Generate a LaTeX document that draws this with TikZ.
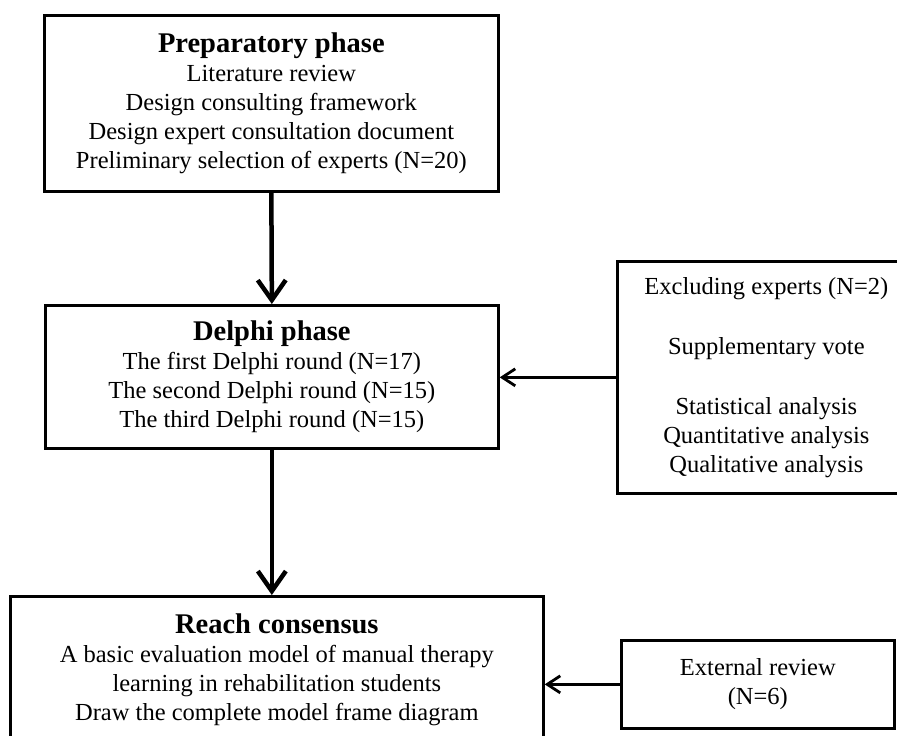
\documentclass[tikz,border=0pt]{standalone}
\usepackage{fontspec}
\setmainfont{Liberation Serif}
\usetikzlibrary{arrows.meta}
\begin{document}
\begin{tikzpicture}[x=1pt,y=-1pt,
  box/.style={draw, line width=2.7pt, anchor=north west, align=center, inner sep=2pt,
    font=\fontsize{24.5}{29}\selectfont},
  mainarr/.style={line width=4.5pt, -{Straight Barb[length=20pt,width=28pt]}},
  sidearr/.style={line width=2.8pt, -{Straight Barb[length=13pt,width=17pt]}}]
\useasboundingbox (0,0) rectangle (897,736);
\clip (0,0) rectangle (897,736);
\newcommand{\ttltext}[1]{{\fontsize{28.5}{29}\selectfont\bfseries #1}}
\node[box, minimum width=454pt, minimum height=176pt] (prep) at (43,14)
  {\ttltext{Preparatory phase}\\ Literature review\\ Design consulting framework\\
   Design expert consultation document\\ Preliminary selection of experts (N=20)};
\node[box, minimum width=453pt, minimum height=143pt] (delphi) at (44,304)
  {\ttltext{Delphi phase}\\ The first Delphi round (N=17)\\ The second Delphi round (N=15)\\
   The third Delphi round (N=15)};
\node[box, minimum width=533pt, minimum height=146pt] (cons) at (9,595)
  {\ttltext{Reach consensus}\\ A basic evaluation model of manual therapy\\
   learning in rehabilitation students\\ Draw the complete model frame diagram};
\node[box, minimum width=298pt, minimum height=232pt] (anal) at (616,260)
  {Excluding experts (N=2)\\[31pt] Supplementary vote\\[31pt] Statistical analysis\\
   Quantitative analysis\\ Qualitative analysis};
\node[box, minimum width=273pt, minimum height=88pt] (ext) at (620,639)
  {External review\\ (N=6)};
\draw[mainarr] (prep.south) -- (delphi.north);
\draw[mainarr] (delphi.south) -- (delphi.south |- cons.north);
\draw[sidearr] (anal.west) -- (anal.west -| delphi.east);
\draw[sidearr] (ext.west) -- (ext.west -| cons.east);
\end{tikzpicture}
\end{document}
